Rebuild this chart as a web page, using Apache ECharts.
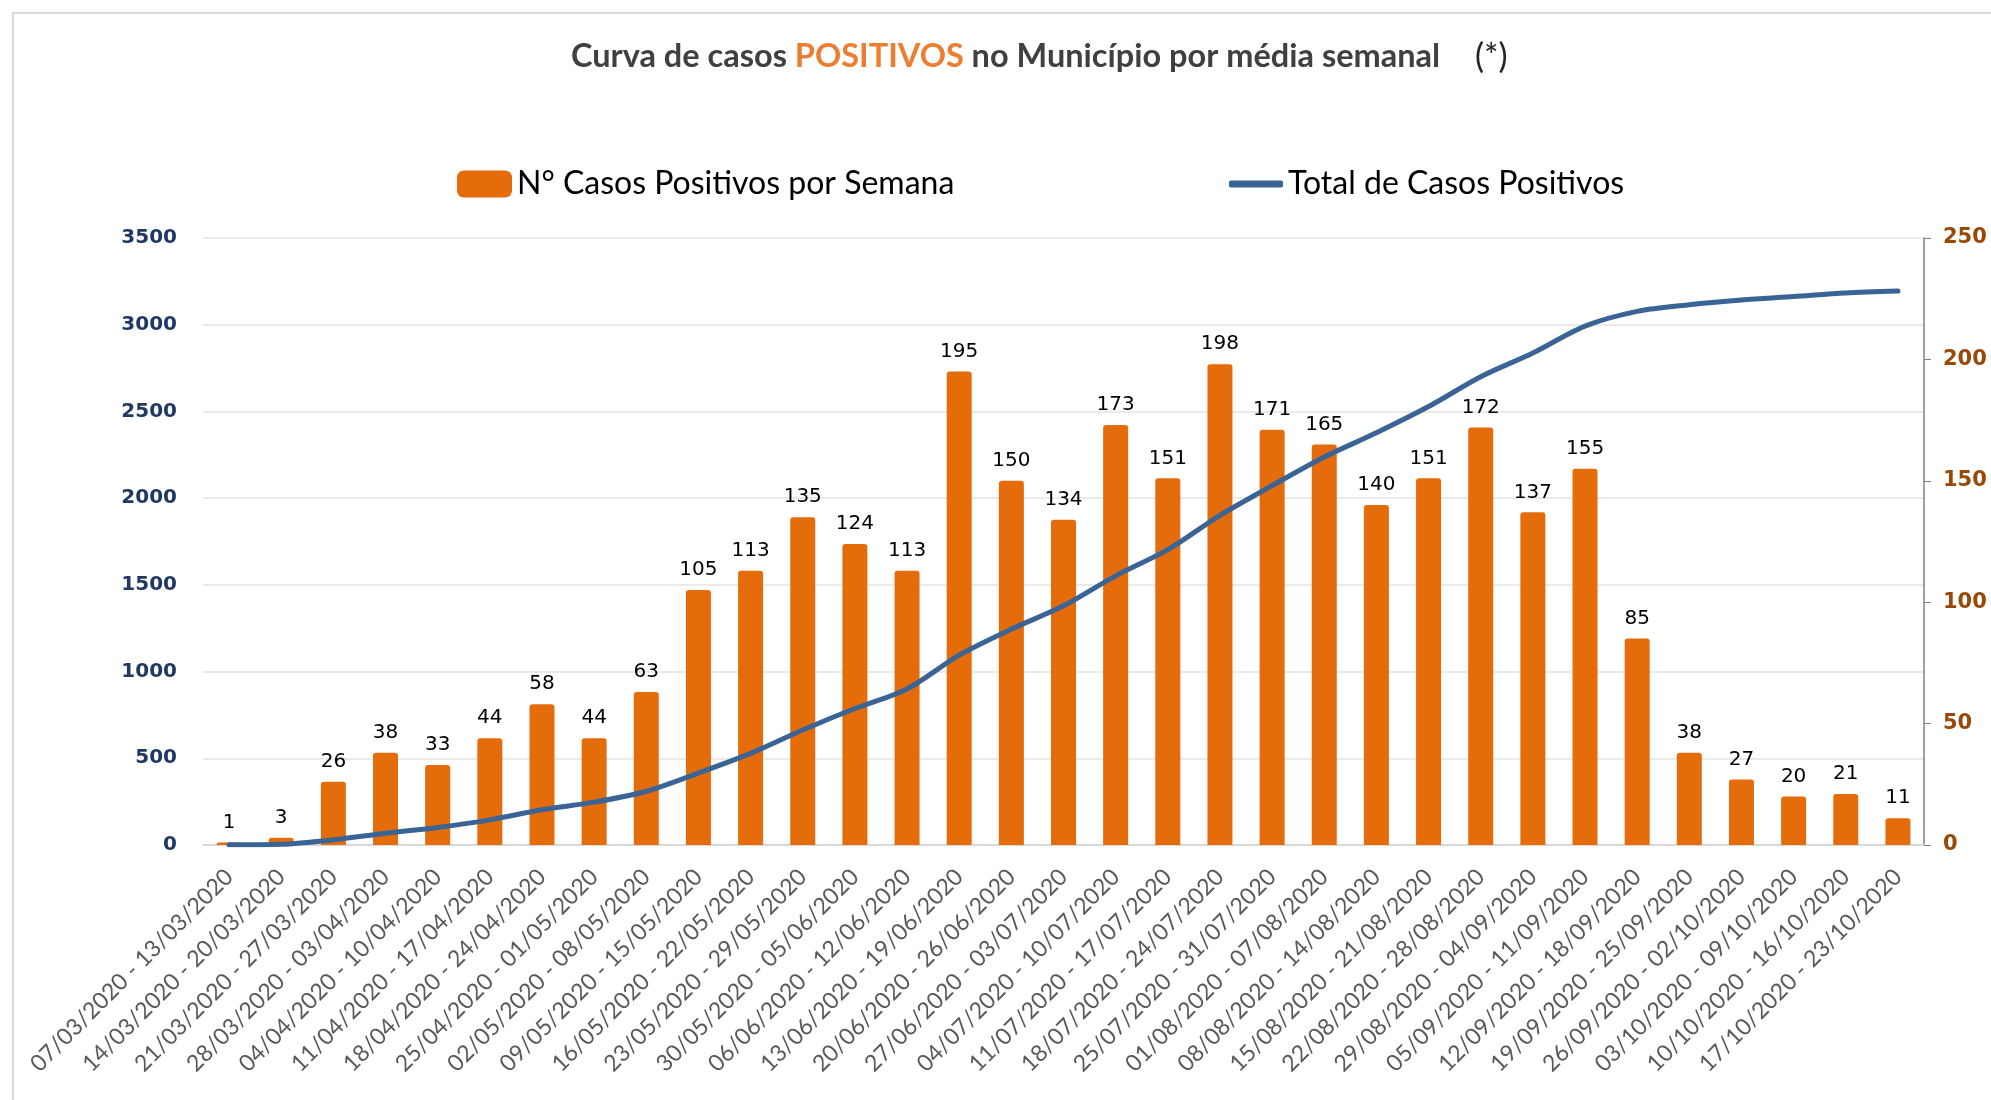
<!DOCTYPE html>
<html>
<head>
<meta charset="utf-8">
<script src="https://cdn.jsdelivr.net/npm/echarts@6/dist/echarts.min.js"></script>
<style>
  html, body { margin: 0; padding: 0; background: #fff; }
  #chart { width: 1991px; height: 1100px; }
</style>
</head>
<body>
<div id="chart"></div>
<script>
// semanas (categorias do eixo x)
var weeks = [
  '07/03/2020 - 13/03/2020', '14/03/2020 - 20/03/2020', '21/03/2020 - 27/03/2020',
  '28/03/2020 - 03/04/2020', '04/04/2020 - 10/04/2020', '11/04/2020 - 17/04/2020',
  '18/04/2020 - 24/04/2020', '25/04/2020 - 01/05/2020', '02/05/2020 - 08/05/2020',
  '09/05/2020 - 15/05/2020', '16/05/2020 - 22/05/2020', '23/05/2020 - 29/05/2020',
  '30/05/2020 - 05/06/2020', '06/06/2020 - 12/06/2020', '13/06/2020 - 19/06/2020',
  '20/06/2020 - 26/06/2020', '27/06/2020 - 03/07/2020', '04/07/2020 - 10/07/2020',
  '11/07/2020 - 17/07/2020', '18/07/2020 - 24/07/2020', '25/07/2020 - 31/07/2020',
  '01/08/2020 - 07/08/2020', '08/08/2020 - 14/08/2020', '15/08/2020 - 21/08/2020',
  '22/08/2020 - 28/08/2020', '29/08/2020 - 04/09/2020', '05/09/2020 - 11/09/2020',
  '12/09/2020 - 18/09/2020', '19/09/2020 - 25/09/2020', '26/09/2020 - 02/10/2020',
  '03/10/2020 - 09/10/2020', '10/10/2020 - 16/10/2020', '17/10/2020 - 23/10/2020'
];

// casos positivos por semana (barras, eixo direito)
var weeklyCases = [1, 3, 26, 38, 33, 44, 58, 44, 63, 105, 113, 135, 124, 113, 195, 150, 134,
  173, 151, 198, 171, 165, 140, 151, 172, 137, 155, 85, 38, 27, 20, 21, 11];

// total acumulado (linha, eixo esquerdo)
var totalCases = [1, 4, 30, 68, 101, 145, 203, 247, 310, 415, 528, 663, 787, 900, 1095, 1245,
  1379, 1552, 1703, 1901, 2072, 2237, 2377, 2528, 2700, 2837, 2992, 3077, 3115, 3142, 3162,
  3183, 3194];

var leftTicks = { min: 0, max: 3500, interval: 500 };
var rightTicks = { min: 0, max: 250, interval: 50 };

var chart = echarts.init(document.getElementById('chart'));

var option = {
  animation: false,
  backgroundColor: '#fff',
  graphic: [{
    type: 'rect',
    shape: { x: 13, y: 13, width: 2100, height: 1200 },
    style: { fill: 'none', stroke: '#d9d9d9', lineWidth: 2 },
    silent: true
  }],
  title: {
    left: 566,
    top: 35,
    text: '{a|Curva de casos }{b|POSITIVOS}{a| no Município por média semanal}{c|    (*)}',
    textStyle: {
      rich: {
        a: { fontFamily: 'Lato', fontWeight: 'bold', fontSize: 32.5, color: '#404040' },
        b: { fontFamily: 'Lato', fontWeight: 'bold', fontSize: 32.5, color: '#ED7D31' },
        c: { fontFamily: 'Lato', fontWeight: 'normal', fontSize: 34, color: '#262626' }
      }
    }
  },
  legend: [{
    left: 452,
    top: 163,
    itemWidth: 55,
    itemHeight: 27,
    data: [{ name: 'N° Casos Positivos por Semana', icon: 'roundRect' }],
    textStyle: { fontFamily: 'Lato', fontSize: 32, color: '#000' }
  }, {
    left: 1224,
    top: 163,
    itemWidth: 54,
    itemHeight: 7,
    data: [{ name: 'Total de Casos Positivos', icon: 'roundRect' }],
    textStyle: { fontFamily: 'Lato', fontSize: 32, color: '#000' }
  }],
  grid: { left: 203, right: 67, top: 238, bottom: 255 },
  xAxis: {
    type: 'category',
    data: weeks,
    axisLine: { lineStyle: { color: '#d9d9d9', width: 2 } },
    axisTick: { show: false },
    axisLabel: {
      interval: 0,
      rotate: 45,
      margin: 28,
      fontFamily: 'Lato',
      fontSize: 23,
      color: '#595959'
    }
  },
  yAxis: [{
    type: 'value',
    min: leftTicks.min,
    max: leftTicks.max,
    interval: leftTicks.interval,
    axisLine: { show: false },
    axisTick: { show: false },
    axisLabel: {
      margin: 26,
      fontFamily: 'DejaVu Sans',
      fontWeight: 'bold',
      fontSize: 20,
      color: '#1F3864',
      formatter: function (v) { return String(v); }
    },
    splitLine: { lineStyle: { color: '#e3e3e3', width: 1.5 } }
  }, {
    type: 'value',
    position: 'right',
    min: rightTicks.min,
    max: rightTicks.max,
    interval: rightTicks.interval,
    axisLine: { show: true, lineStyle: { color: '#808080', width: 1.5 } },
    axisTick: { show: true, length: 7, lineStyle: { color: '#808080' } },
    axisLabel: {
      margin: 19,
      fontFamily: 'DejaVu Sans',
      fontWeight: 'bold',
      fontSize: 21,
      color: '#984807',
      formatter: function (v) { return String(v); }
    },
    splitLine: { show: false }
  }],
  series: [{
    name: 'N° Casos Positivos por Semana',
    type: 'bar',
    yAxisIndex: 1,
    data: weeklyCases,
    barWidth: 25,
    itemStyle: { color: '#E46C0A', borderRadius: [3, 3, 0, 0] },
    label: {
      show: true,
      position: 'top',
      distance: 10,
      fontFamily: 'DejaVu Sans',
      fontSize: 20,
      color: '#000'
    },
    z: 2
  }, {
    name: 'Total de Casos Positivos',
    type: 'line',
    yAxisIndex: 0,
    data: totalCases,
    smooth: 0.3,
    showSymbol: false,
    symbol: 'none',
    itemStyle: { color: '#3A6396' },
    lineStyle: { color: '#3A6396', width: 5, cap: 'round' },
    z: 5
  }]
};

chart.setOption(option);
</script>
</body>
</html>
